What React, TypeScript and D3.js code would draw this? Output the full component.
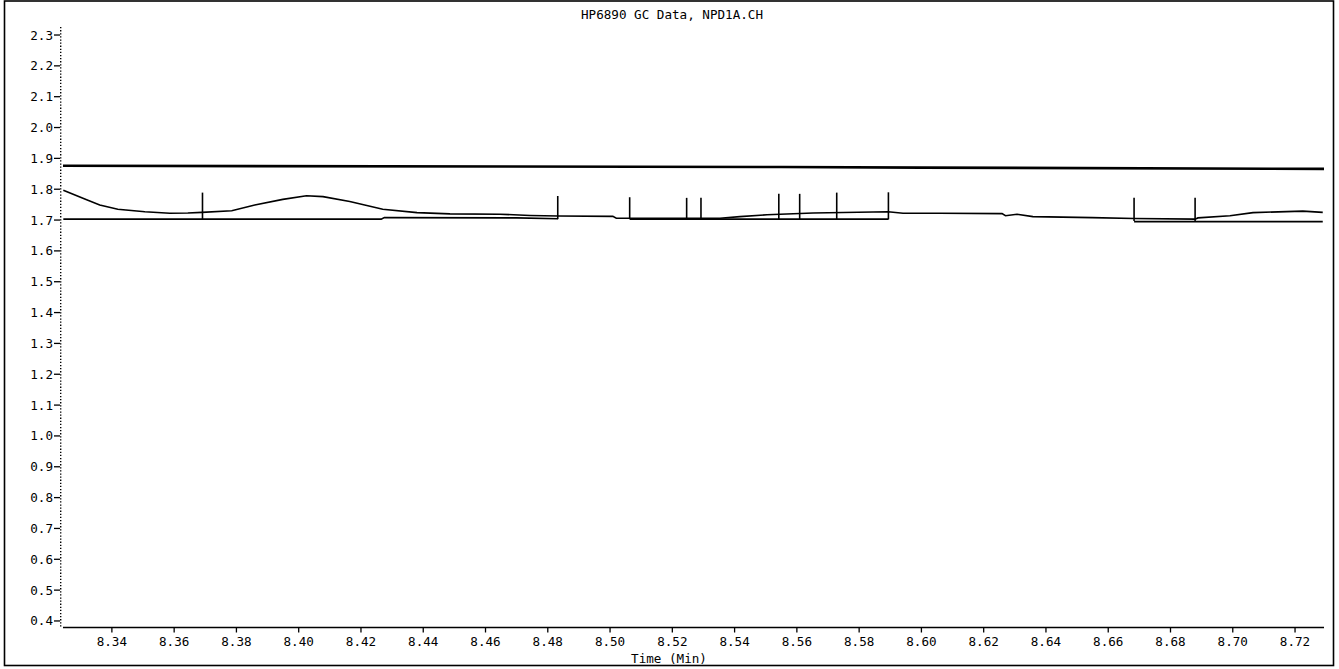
import React from "react";
import * as d3 from "d3";

const W = 1339;
const H = 669;

const TITLE = "HP6890 GC Data, NPD1A.CH";
const X_LABEL = "Time (Min)";

const xTicks = [8.34, 8.36, 8.38, 8.40, 8.42, 8.44, 8.46, 8.48, 8.50, 8.52, 8.54, 8.56, 8.58, 8.60, 8.62, 8.64, 8.66, 8.68, 8.70, 8.72];
const yTicks = [0.4, 0.5, 0.6, 0.7, 0.8, 0.9, 1.0, 1.1, 1.2, 1.3, 1.4, 1.5, 1.6, 1.7, 1.8, 1.9, 2.0, 2.1, 2.2, 2.3];

// detector signal (time, value)
const signalTimes = [8.3244, 8.3313, 8.3361, 8.3419, 8.3506, 8.3586, 8.3644, 8.3689, 8.3785, 8.3859, 8.3949, 8.4025, 8.4078, 8.4164, 8.4270, 8.4380, 8.4486, 8.4646, 8.4743, 8.4833, 8.5009, 8.5020, 8.5353, 8.5417, 8.5504, 8.5652, 8.5893, 8.5941, 8.6060, 8.6259, 8.6270, 8.6307, 8.6358, 8.6548, 8.6683, 8.6879, 8.6888, 8.6991, 8.7065, 8.7225, 8.7289];
const signalValues = [1.797, 1.768, 1.749, 1.735, 1.727, 1.722, 1.723, 1.725, 1.730, 1.749, 1.767, 1.779, 1.776, 1.760, 1.735, 1.724, 1.720, 1.719, 1.715, 1.713, 1.712, 1.706, 1.706, 1.711, 1.717, 1.723, 1.727, 1.722, 1.722, 1.721, 1.714, 1.719, 1.711, 1.708, 1.705, 1.703, 1.707, 1.714, 1.724, 1.729, 1.725];

// upper reference trace
const refTimes = [8.3243, 8.5550, 8.6000, 8.7293];
const refValues = [1.876, 1.872, 1.870, 1.866];

// integration baselines
const baselineA_t = [8.3244, 8.4265, 8.4275, 8.4700, 8.4833];
const baselineA_v = [1.703, 1.703, 1.708, 1.707, 1.704];
const baselineB_t = [8.5063, 8.5894];
const baselineB_v = [1.703, 1.703];
const baselineC_t = [8.6683, 8.7289];
const baselineC_v = [1.695, 1.695];

// event markers
const markerTimes = [8.3691, 8.4832, 8.5063, 8.5246, 8.5292, 8.5542, 8.5609, 8.5728, 8.5894, 8.6683, 8.6879];
const markerBottoms = [1.703, 1.703, 1.703, 1.705, 1.705, 1.703, 1.703, 1.703, 1.702, 1.697, 1.697];
const markerTops = [1.789, 1.778, 1.774, 1.772, 1.772, 1.785, 1.785, 1.789, 1.790, 1.772, 1.772];

const FONT = "'DejaVu Sans Mono', monospace";

export default function App() {
  const x = d3.scaleLinear().domain([8.3243, 8.7293]).range([63, 1324]);
  const y = d3.scaleLinear().domain([0.3788, 2.326]).range([627.5, 27]);

  const line = d3
    .line<[number, number]>()
    .x((d) => x(d[0]))
    .y((d) => y(d[1]));

  const zip = (t: number[], v: number[]) => t.map((tt, i) => [tt, v[i]] as [number, number]);

  const axisX = 60.7;
  const axisY = y(0.3788);

  return (
    <div style={{ position: "absolute", left: 0, top: 0, width: W, height: H, background: "#fff" }}>
      <svg width={W} height={H} style={{ display: "block" }}>
        <rect x={0} y={0} width={W} height={H} fill="#fff" />
        {/* page frame */}
        <rect x={4.5} y={1} width={1329} height={664.5} fill="none" stroke="#000" strokeWidth={1.6} />

        {/* title */}
        <text x={672} y={19} textAnchor="middle" fontFamily={FONT} fontSize={12.6} fill="#000">
          {TITLE}
        </text>

        {/* y axis (dotted) */}
        <line x1={axisX} x2={axisX} y1={27} y2={627} stroke="#000" strokeWidth={1.4} strokeDasharray="1.3 1.8" />
        {yTicks.map((v) => (
          <g key={"y" + v}>
            <line x1={54} x2={60} y1={y(v)} y2={y(v)} stroke="#000" strokeWidth={1.3} />
            <text x={53} y={y(v) + 4.5} textAnchor="end" fontFamily={FONT} fontSize={12.6} fill="#000">
              {v.toFixed(1)}
            </text>
          </g>
        ))}

        {/* x axis */}
        <line x1={63} x2={1324} y1={axisY} y2={axisY} stroke="#000" strokeWidth={1.6} />
        {xTicks.map((t) => (
          <g key={"x" + t}>
            <line x1={x(t)} x2={x(t)} y1={axisY} y2={axisY + 5} stroke="#000" strokeWidth={1.3} />
            <text x={x(t)} y={645.5} textAnchor="middle" fontFamily={FONT} fontSize={12.6} fill="#000">
              {t.toFixed(2)}
            </text>
          </g>
        ))}
        <text x={669} y={663} textAnchor="middle" fontFamily={FONT} fontSize={12.6} fill="#000">
          {X_LABEL}
        </text>

        {/* reference trace */}
        <path d={line(zip(refTimes, refValues)) || ""} fill="none" stroke="#000" strokeWidth={2.6} />

        {/* baselines */}
        <path d={line(zip(baselineA_t, baselineA_v)) || ""} fill="none" stroke="#000" strokeWidth={1.6} />
        <path d={line(zip(baselineB_t, baselineB_v)) || ""} fill="none" stroke="#000" strokeWidth={1.6} />
        <path d={line(zip(baselineC_t, baselineC_v)) || ""} fill="none" stroke="#000" strokeWidth={1.6} />

        {/* signal */}
        <path d={line(zip(signalTimes, signalValues)) || ""} fill="none" stroke="#000" strokeWidth={1.6} />

        {/* markers */}
        {markerTimes.map((t, i) => (
          <line
            key={"m" + i}
            x1={x(t)}
            x2={x(t)}
            y1={y(markerBottoms[i])}
            y2={y(markerTops[i])}
            stroke="#000"
            strokeWidth={1.6}
          />
        ))}
      </svg>
    </div>
  );
}
